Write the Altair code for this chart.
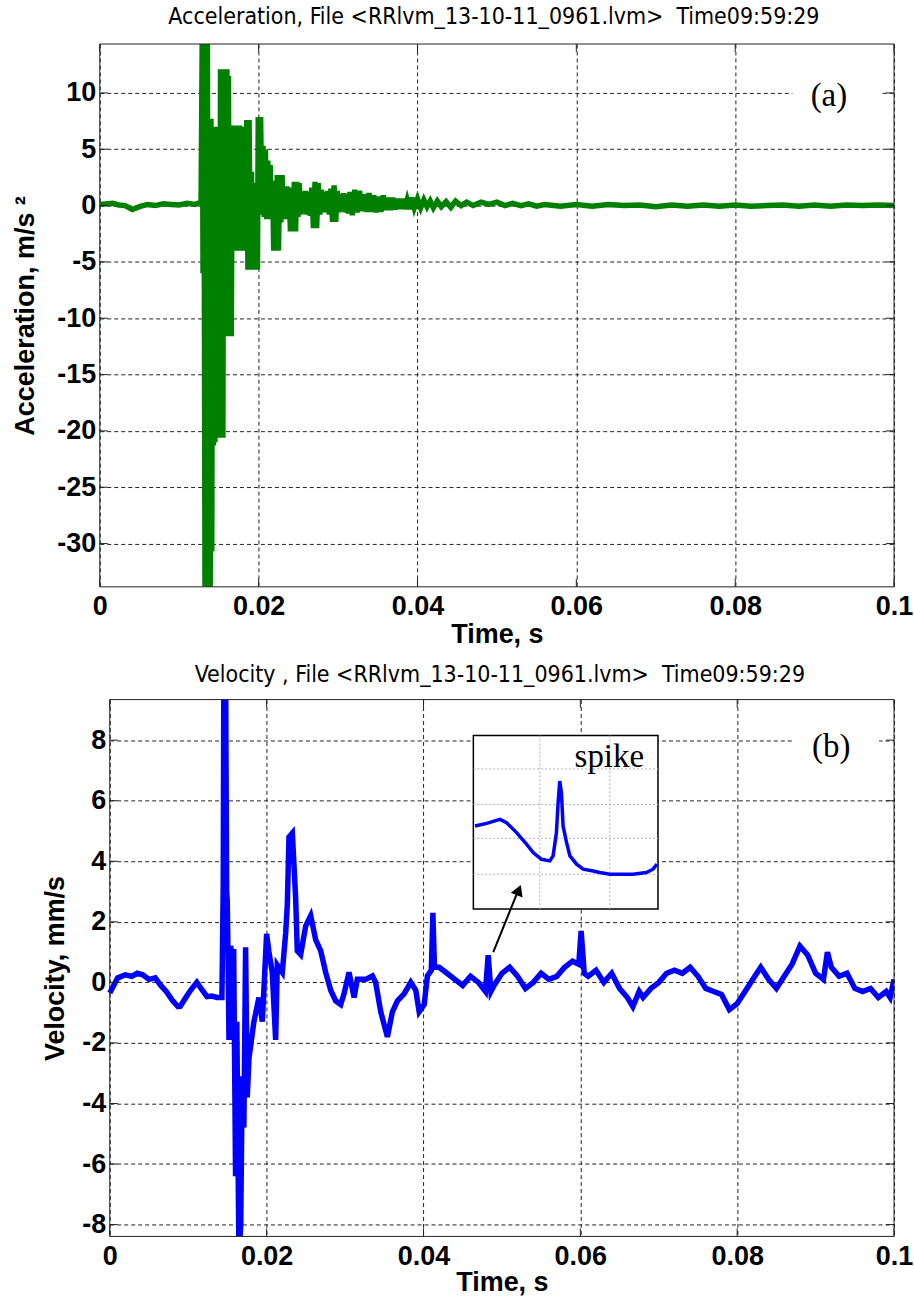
import altair as alt
import pandas as pd

# ---------------- data ----------------
acc_t = [0.0, 0.0008, 0.0016, 0.0024, 0.0032, 0.0041, 0.005, 0.006, 0.007, 0.008, 0.009, 0.010, 0.011, 0.012, 0.0127,
         0.01275, 0.0129, 0.0130, 0.0131, 0.01325, 0.01335, 0.01345, 0.01355, 0.01365, 0.0138, 0.0139, 0.0140,
         0.0141, 0.0142, 0.0143, 0.0144, 0.0145, 0.0146, 0.0147, 0.0148, 0.0149, 0.0150, 0.0151, 0.0152, 0.0153,
         0.0154, 0.0155, 0.0156, 0.0157, 0.0158, 0.0159, 0.0160, 0.0161, 0.0162, 0.0163, 0.0164, 0.01655, 0.0167,
         0.01685, 0.0170, 0.01715, 0.0173, 0.01745, 0.0176, 0.01775, 0.0179, 0.01805, 0.0182, 0.01835, 0.0185,
         0.01865, 0.0188, 0.01895, 0.0191, 0.01925, 0.0194, 0.01955, 0.0197, 0.01985, 0.01995, 0.0201, 0.02025,
         0.0204, 0.02055, 0.0207, 0.02085, 0.0210, 0.02115, 0.0213, 0.02145, 0.0216, 0.02175, 0.0219, 0.02205,
         0.0222, 0.02235, 0.0225, 0.02265, 0.0228, 0.02295, 0.0231, 0.02325, 0.0234, 0.02355, 0.0237, 0.02385,
         0.0240, 0.02415, 0.0243, 0.0245, 0.02465, 0.0248, 0.02495, 0.0251, 0.0253, 0.0255, 0.0257, 0.0259,
         0.0261, 0.0263, 0.0265, 0.0267, 0.0269, 0.0271, 0.0273, 0.0275, 0.0277, 0.0279, 0.0281, 0.0283, 0.0285,
         0.0287, 0.0289, 0.0291, 0.0293, 0.0295, 0.0297, 0.0299, 0.0301, 0.0303, 0.0305, 0.0307, 0.0309, 0.0311,
         0.0313, 0.0315, 0.0318, 0.0321, 0.0324, 0.0327, 0.0330, 0.0333, 0.0336, 0.0339, 0.0342, 0.0345, 0.0348,
         0.0351, 0.0354, 0.0357, 0.0360, 0.0363, 0.0366, 0.0369, 0.0372, 0.0375, 0.0378, 0.0381, 0.0384, 0.0387,
         0.0390, 0.0393, 0.0396, 0.0400, 0.0404, 0.0408, 0.0412, 0.0416, 0.0420, 0.0425, 0.0430, 0.0436, 0.0442,
         0.0448, 0.0455, 0.0462, 0.047, 0.048, 0.049, 0.050, 0.051, 0.052, 0.053, 0.054, 0.055, 0.056, 0.058,
         0.060, 0.062, 0.064, 0.066, 0.068, 0.070, 0.072, 0.074, 0.076, 0.078, 0.080, 0.082, 0.084, 0.086, 0.088,
         0.090, 0.092, 0.094, 0.096, 0.098, 0.100]
acc_a = [0.1, 0.15, 0.2, 0.05, 0.0, -0.35, -0.1, 0.1, 0.0, 0.15, 0.1, 0.05, 0.2, 0.1, 0.3,
         0.3, 15.0, -6.0, 15.0, -35.0, 15.0, -35.0, 15.0, -35.0, 7.7, -35.0, 7.7,
         -30.7, 7.0, -21.3, 7.0, -21.0, 3.5, -17.1, 7.0, -20.6, 6.5, -20.6, 12.1, -20.6,
         12.1, -20.6, 12.1, -11.6, 12.1, -11.6, 12.1, -11.6, 11.5, -11.6, 7.1, -11.6, 7.1,
         -4.0, 7.1, -4.0, 7.1, -4.0, 7.1, -4.0, 7.0, -4.0, 5.0, -4.0, 7.6,
         -5.7, 7.6, -5.7, 3.0, -5.7, 2.0, -5.7, 1.5, -5.7, 7.85, -0.5, 7.85,
         -0.8, 5.3, -1.0, 5.0, -1.2, 4.0, -1.2, 3.6, -0.8, 2.2, -4.0, 2.0,
         -4.0, 2.7, -4.0, 2.7, -1.5, 2.7, -1.0, 1.5, -1.2, 1.7, -1.0, 1.6,
         -2.3, 1.5, -2.3, 2.1, -2.3, 2.1, -1.0, 2.0, -0.8, 1.2, -0.7, 1.3,
         -0.8, 1.2, -0.9, 1.6, -2.0, 2.1, -2.0, 2.0, -0.8, 1.4, -0.6, 1.2, -0.6,
         1.3, -0.8, 1.5, -1.45, 1.8, -1.45, 1.3, -0.6, 1.0, -0.5, 1.1, -0.6, 1.0,
         -0.7, 1.2, -0.85, 1.4, -0.6, 1.3, -0.5, 1.0, -0.55, 1.1, -0.55, 0.9, -0.6,
         0.8, -0.55, 0.9, -0.4, 0.7, -0.4, 0.7, -0.35, 0.6, -0.3, 0.6, -0.3, 0.5,
         -0.3, 0.7, -0.2, 0.6, -0.2, 0.5, -0.1, 0.4, -0.2, 0.4, -0.1, 0.35, -0.15,
         0.4, 0.0, 0.3, 0.0, 0.3, 0.1, 0.3, 0.0, 0.2, 0.0, 0.15, -0.05, 0.1, -0.05,
         0.1, -0.05, 0.1, 0.0, 0.05, -0.1, 0.05, -0.05, 0.05, -0.05, 0.05, -0.05, 0.0, 0.05, -0.05,
         0.05, -0.05, 0.05, 0.0, 0.05, 0.0]

vel_t = [0.0000, 0.0005, 0.0010, 0.0015, 0.0020, 0.0028, 0.0035, 0.0042, 0.0050, 0.0058, 0.0065, 0.0072,
         0.0080, 0.0087, 0.0090, 0.0097, 0.0103, 0.0111, 0.0118, 0.0124, 0.0130, 0.0137, 0.0143, 0.01447,
         0.01455, 0.01476, 0.0149, 0.01498, 0.0151, 0.0152, 0.0154, 0.0156, 0.0158, 0.01604, 0.0162, 0.01647,
         0.0167, 0.01689, 0.0171, 0.01732, 0.01753, 0.01775, 0.01796, 0.01838, 0.01902, 0.01945, 0.0200,
         0.0203, 0.02072, 0.02115, 0.02136, 0.0220, 0.02243, 0.02264, 0.02285, 0.02328, 0.0237, 0.02391,
         0.02434, 0.02498, 0.02562, 0.02626, 0.0269, 0.02753, 0.02817, 0.02881, 0.02945, 0.02987, 0.03051,
         0.03115, 0.03157, 0.03264, 0.03349, 0.0339, 0.03455, 0.0354, 0.03604, 0.03668, 0.03753, 0.03838,
         0.03902, 0.03945, 0.04009, 0.0405, 0.0410, 0.0412, 0.0414, 0.0420, 0.0430, 0.0440, 0.0450, 0.0460,
         0.0470, 0.0479, 0.04825, 0.0486, 0.0490, 0.0500, 0.0510, 0.0520, 0.0530, 0.0540, 0.0550, 0.0560,
         0.0570, 0.0580, 0.0590, 0.0598, 0.0601, 0.0605, 0.0610, 0.0620, 0.0630, 0.0640, 0.0650, 0.0660,
         0.0667, 0.0675, 0.0680, 0.0690, 0.0700, 0.0710, 0.0720, 0.0730, 0.0740, 0.0750, 0.0760, 0.0770,
         0.0780, 0.0790, 0.0800, 0.0810, 0.0820, 0.0830, 0.0840, 0.0850, 0.0860, 0.0870, 0.0880, 0.0890,
         0.0900, 0.0910, 0.0915, 0.0920, 0.0930, 0.0940, 0.0950, 0.0960, 0.0970, 0.0980, 0.0990, 0.0995, 0.1000]
vel_v = [-0.35, -0.1, 0.15, 0.2, 0.25, 0.2, 0.3, 0.25, 0.1, 0.15, -0.1, -0.3,
         -0.6, -0.8, -0.79, -0.5, -0.26, 0.0, -0.26, -0.47, -0.45, -0.5, -0.5, 3.3,
         11.0, 11.0, 3.0, 2.7, 0.5, -1.9, 1.2, 0.9, 1.1, -6.4, -1.3, -9.0,
         -8.0, -3.1, -4.8, 1.16, -3.8, -2.5, -2.1, -1.3, -0.5, -1.3, 1.6,
         1.0, 0.33, -1.9, 0.57, 0.33, 1.63, 2.57, 4.8, 4.93, 2.8, 1.04,
         0.92, 1.86, 2.2, 1.4, 1.04, 0.33, -0.26, -0.61, -0.73, -0.38, 0.33,
         -0.5, 0.1, 0.1, 0.21, 0.0, -0.97, -1.8, -0.97, -0.61, -0.38, 0.0,
         -0.26, -0.97, -0.73, 0.21, 0.4, 2.3, 0.5, 0.5, 0.3, 0.1, -0.1, 0.2,
         0.0, -0.3, 0.9, -0.3, -0.1, 0.3, 0.5, 0.2, -0.2, 0.0, 0.3, 0.1,
         0.2, 0.5, 0.7, 0.6, 1.7, 0.3, 0.2, 0.4, 0.0, 0.3, -0.2, -0.5,
         -0.8, -0.3, -0.5, -0.2, 0.0, 0.3, 0.4, 0.3, 0.5, 0.2, -0.2, -0.3,
         -0.4, -0.9, -0.7, -0.3, 0.1, 0.5, 0.1, -0.2, 0.2, 0.6, 1.2, 0.9,
         0.3, 0.1, 1.0, 0.5, 0.2, 0.3, -0.2, -0.3, -0.2, -0.5, -0.3, -0.5, 0.1]

# inset curve, in the inset's own unit box (0..1 x 0..1)
inset_u = [0.009, 0.072, 0.144, 0.180, 0.234, 0.288, 0.324, 0.369, 0.414, 0.432, 0.450, 0.459, 0.468,
           0.477, 0.486, 0.505, 0.523, 0.559, 0.595, 0.649, 0.685, 0.739, 0.793, 0.865, 0.937, 0.973, 0.995]
inset_w = [0.479, 0.494, 0.517, 0.498, 0.441, 0.374, 0.326, 0.287, 0.278, 0.307, 0.441, 0.613, 0.738,
           0.670, 0.479, 0.383, 0.307, 0.259, 0.230, 0.220, 0.211, 0.201, 0.201, 0.201, 0.211, 0.230, 0.259]
inset_grid_u = [0.36, 0.739]
inset_grid_w = [0.201, 0.408, 0.603, 0.808]

x_ticks = [0, 0.02, 0.04, 0.06, 0.08, 0.1]
acc_ticks = [10, 5, 0, -5, -10, -15, -20, -25, -30]
vel_ticks = [8, 6, 4, 2, 0, -2, -4, -6, -8]

acc_title = "Acceleration, File <RRlvm_13-10-11_0961.lvm>\u00a0\u00a0Time09:59:29"
vel_title = "Velocity , File <RRlvm_13-10-11_0961.lvm>\u00a0\u00a0Time09:59:29"

# ---------------- layout / style constants ----------------
X_DOMAIN = [0, 0.1]
ACC_DOMAIN = [-33.84, 14.34]
VEL_DOMAIN = [-8.39, 9.34]
W, H1, H2 = 796, 544, 538
X0B = 10                      # panel (b) plot starts 10 px right of panel (a)
SANS = "Liberation Sans"
NARROW = "'Liberation Sans Narrow', 'DejaVu Sans Condensed', 'Liberation Sans', sans-serif"
SERIF = "Liberation Serif"
GREEN = "#008000"
BLUE = "#0000ff"
IN_T0, IN_T1, IN_V0, IN_V1 = 0.04636, 0.06990, 2.42, 8.15


def xenc(x0, tpad):
    return alt.X("t:Q", scale=alt.Scale(domain=X_DOMAIN, range=[x0, W], nice=False, zero=False),
                 axis=alt.Axis(values=x_ticks, labelExpr="'' + datum.value", title="Time, s",
                               labelPadding=7, titlePadding=tpad))


def yenc(domain, ticks, title, tpad, off):
    return alt.Y("v:Q", scale=alt.Scale(domain=domain, nice=False, zero=False),
                 axis=alt.Axis(values=ticks, labelExpr="'' + datum.value", title=title,
                               titlePadding=tpad, labelPadding=4, offset=off))


def one():
    return alt.Chart(pd.DataFrame({"k": [0]}))


def frame(ticks, x0, H):
    yt = alt.Chart(pd.DataFrame({"v": ticks}))
    xt = alt.Chart(pd.DataFrame({"t": x_ticks}))
    style = dict(color="#222", strokeWidth=1)
    return [
        yt.mark_rule(**style).encode(x=alt.value(x0), x2=alt.value(x0 + 8), y="v:Q"),
        yt.mark_rule(**style).encode(x=alt.value(W - 8), x2=alt.value(W), y="v:Q"),
        xt.mark_rule(**style).encode(x="t:Q", y=alt.value(H - 8), y2=alt.value(H)),
        xt.mark_rule(**style).encode(x="t:Q", y=alt.value(0), y2=alt.value(8)),
        one().mark_rect(fillOpacity=0, stroke="#222", strokeWidth=1).encode(
            x=alt.value(x0), x2=alt.value(W), y=alt.value(0), y2=alt.value(H)),
    ]


def extent(top, bottom):
    # invisible element fixing the panel's layout bounds
    return one().mark_rule(opacity=0).encode(
        x=alt.value(-89), x2=alt.value(-89), y=alt.value(top), y2=alt.value(bottom))


def title_text(text, xc, yc):
    return one().mark_text(font=NARROW, fontSize=23, color="black", align="center",
                           baseline="middle", text=text).encode(x=alt.value(xc), y=alt.value(yc))


def panel_label(text, t0, t1, v0, v1, tc, vc):
    box = alt.Chart(pd.DataFrame({"t": [t0], "t2": [t1], "v": [v0], "v2": [v1]})).mark_rect(
        color="white").encode(x="t:Q", x2="t2:Q", y="v:Q", y2="v2:Q")
    txt = alt.Chart(pd.DataFrame({"t": [tc], "v": [vc], "s": [text]})).mark_text(
        font=SERIF, fontSize=33, color="black", align="center", baseline="middle").encode(
        x="t:Q", y="v:Q", text="s:N")
    return [box, txt]


# ---------------- panel (a) ----------------
acc_df = pd.DataFrame({"t": acc_t, "v": acc_a, "i": range(len(acc_t))})
acc_line = alt.Chart(acc_df).mark_line(color=GREEN, strokeWidth=5.5, clip=True).encode(
    x=xenc(0, 2), y=yenc(ACC_DOMAIN, acc_ticks, "Acceleration, m/s \u00b2", 17, 0), order="i:Q")

top = alt.layer(
    acc_line,
    *panel_label("(a)", 0.0872, 0.0985, 8.3, 10.9, 0.0918, 9.7),
    *frame(acc_ticks, 0, H1),
    title_text(acc_title, W / 2 - 3, -27),
    extent(-40, H1 + 71),
).properties(width=W, height=H1)

# ---------------- panel (b) ----------------
vel_df = pd.DataFrame({"t": vel_t, "v": vel_v, "i": range(len(vel_t))})
vel_line = alt.Chart(vel_df).mark_line(color=BLUE, strokeWidth=5.5, clip=True).encode(
    x=xenc(X0B, 0), y=yenc(VEL_DOMAIN, vel_ticks, "Velocity, mm/s", 12, -X0B), order="i:Q")

inset_box = alt.Chart(pd.DataFrame({"t": [IN_T0], "t2": [IN_T1], "v": [IN_V0], "v2": [IN_V1]})).mark_rect(
    fill="white", stroke="black", strokeWidth=1.5).encode(x="t:Q", x2="t2:Q", y="v:Q", y2="v2:Q")

inset_hgrid = alt.Chart(pd.DataFrame({"w": inset_grid_w})).transform_calculate(
    v=f"{IN_V0} + datum.w * {IN_V1 - IN_V0}", t=f"{IN_T0}", t2=f"{IN_T1}"
).mark_rule(color="#b0b0b0", strokeDash=[2, 2], strokeWidth=1).encode(x="t:Q", x2="t2:Q", y="v:Q")

inset_vgrid = alt.Chart(pd.DataFrame({"u": inset_grid_u})).transform_calculate(
    t=f"{IN_T0} + datum.u * {IN_T1 - IN_T0}", v=f"{IN_V0}", v2=f"{IN_V1}"
).mark_rule(color="#b0b0b0", strokeDash=[2, 2], strokeWidth=1).encode(x="t:Q", y="v:Q", y2="v2:Q")

inset_curve = alt.Chart(pd.DataFrame({"u": inset_u, "w": inset_w, "i": range(len(inset_u))})).transform_calculate(
    t=f"{IN_T0} + datum.u * {IN_T1 - IN_T0}", v=f"{IN_V0} + datum.w * {IN_V1 - IN_V0}"
).mark_line(color=BLUE, strokeWidth=3.5).encode(x="t:Q", y="v:Q", order="i:Q")

spike_txt = alt.Chart(pd.DataFrame({"t": [0.0637], "v": [7.45], "s": ["spike"]})).mark_text(
    font=SERIF, fontSize=33, color="black", align="center", baseline="middle").encode(
    x="t:Q", y="v:Q", text="s:N")

arrow_line = alt.Chart(pd.DataFrame({"t": [0.04890, 0.05210], "v": [1.0, 3.05]})).mark_line(
    color="black", strokeWidth=2).encode(x="t:Q", y="v:Q")
arrow_head = alt.Chart(pd.DataFrame({"t": [0.05215], "v": [3.05]})).mark_point(
    shape="triangle-up", filled=True, size=160, angle=22, color="black", opacity=1).encode(x="t:Q", y="v:Q")

bottom = alt.layer(
    vel_line,
    inset_box, inset_hgrid, inset_vgrid, inset_curve, spike_txt,
    arrow_line, arrow_head,
    *panel_label("(b)", 0.08704, 0.09809, 7.16, 8.4, 0.0920, 7.78),
    *frame(vel_ticks, X0B, H2),
    title_text(vel_title, W / 2 + 3, -25),
    extent(-40, H2 + 56),
).properties(width=W, height=H2)

chart = alt.vconcat(top, bottom, spacing=0).properties(
    padding={"left": 10, "top": 1.7, "right": 0, "bottom": 0}
).configure_axis(
    grid=True, gridDash=[4, 3], gridColor="#222", gridWidth=1, gridOpacity=1,
    ticks=False, domain=False,
    labelFont=SANS, labelFontSize=27, labelFontWeight="bold", labelColor="black",
    labelFlush=False, labelOverlap=False,
    titleFont=SANS, titleFontSize=27, titleFontWeight="bold", titleColor="black",
).configure_view(stroke="transparent")

chart.save("out.html", embed_options={"renderer": "svg", "actions": False})
